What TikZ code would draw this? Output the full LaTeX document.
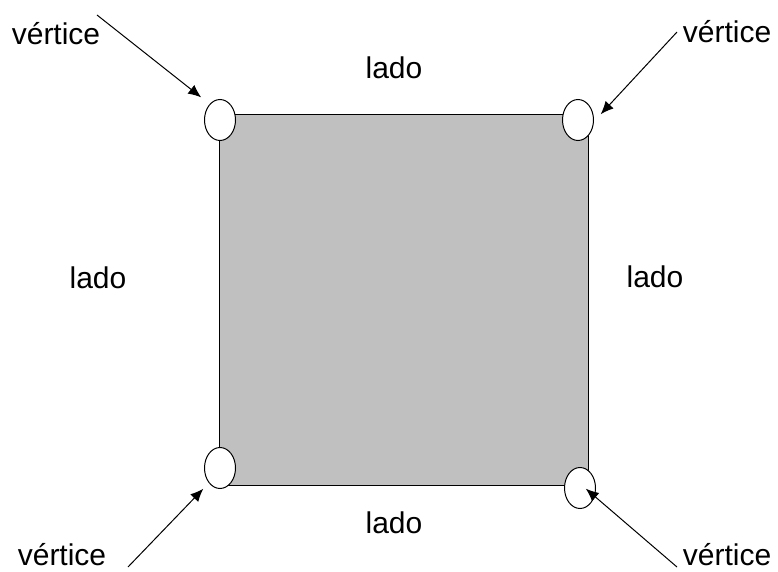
\documentclass[tikz,border=0pt]{standalone}
\usepackage{fontspec}
\setmainfont{Liberation Sans}
\usetikzlibrary{arrows.meta,shapes.geometric}
\definecolor{sqgray}{HTML}{C0C0C0}
\tikzset{
  lbl/.style={font=\fontsize{30}{36}\selectfont, inner sep=0pt, anchor=base},
  vtx/.style={ellipse, draw=black, fill=white, line width=1pt, minimum width=31pt, minimum height=41pt, inner sep=0pt},
  ptr/.style={draw=black, line width=1pt, -{Latex[length=13pt,width=11pt]}, shorten >=1pt}
}
\begin{document}
\begin{tikzpicture}[x=1pt,y=-1pt]
\useasboundingbox (0,0) rectangle (778,572);
\draw[fill=sqgray, line width=1pt] (219,115) rectangle (588,485);
\node[vtx] (tl) at (220,120) {};
\node[vtx] (tr) at (578,120) {};
\node[vtx] (bl) at (220,468) {};
\node[vtx] (br) at (580,488) {};
\node[lbl] (ltl) at (56,45) {vértice};
\node[lbl] (ltr) at (727,43) {vértice};
\node[lbl] (lbl) at (62,565) {vértice};
\node[lbl] (lbr) at (727,565) {vértice};
\node[lbl] (top) at (394,79) {lado};
\node[lbl] (left) at (98,288) {lado};
\node[lbl] (right) at (655,287) {lado};
\node[lbl] (bot) at (394,533) {lado};
\coordinate (stl) at (97,15);
\coordinate (str) at (677,32);
\coordinate (sbl) at (128,567);
\coordinate (sbr) at (677,567);
\draw[ptr] (stl) -- (202,98);
\draw[ptr] (str) -- (600,115);
\draw[ptr] (sbl) -- (204,488);
\draw[ptr] (sbr) -- (585,488);
\end{tikzpicture}
\end{document}
